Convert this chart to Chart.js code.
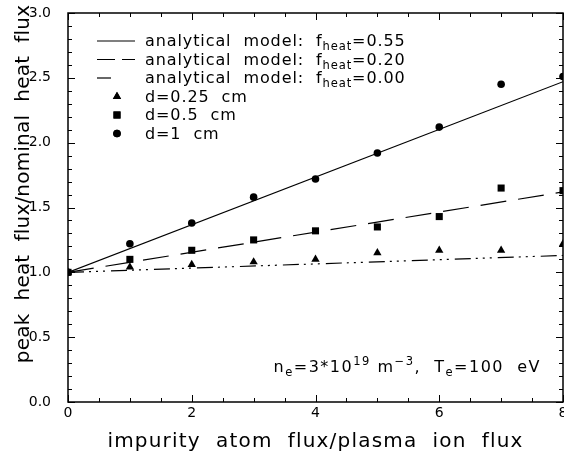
<!DOCTYPE html>
<html>
<head>
<meta charset="utf-8">
<script src="https://cdn.jsdelivr.net/npm/chart.js@4/dist/chart.umd.min.js"></script>
<style>
  html, body { margin: 0; padding: 0; background: #fff; }
  #wrap { width: 564px; height: 456px; }
</style>
</head>
<body>
<div id="wrap"><canvas id="fluxChart" width="564" height="456"></canvas></div>
<script>
const fluxRatio = [0, 1, 2, 3, 4, 5, 6, 7, 8];
const peakD025 = [1.00, 1.04, 1.06, 1.08, 1.10, 1.15, 1.17, 1.17, 1.22];
const peakD05 = [1.00, 1.10, 1.17, 1.25, 1.32, 1.35, 1.43, 1.65, 1.63];
const peakD1 = [1.00, 1.22, 1.38, 1.58, 1.72, 1.92, 2.12, 2.45, 2.51];

// analytical model lines (straight)
const modelX = [0, 8];
const modelF055 = [1.00, 2.47];
const modelF020 = [1.00, 1.62];
const modelF000 = [1.00, 1.13];

const xTicks = [0, 2, 4, 6, 8];
const yTicks = [0, 0.5, 1.0, 1.5, 2.0, 2.5, 3.0];
const legendRows = ['0.55', '0.20', '0.00'];
const pointLabels = ['d=0.25  cm', 'd=0.5  cm', 'd=1  cm'];

const FONT = '"DejaVu Sans", sans-serif';
const dashF020 = [26, 12];
const dashF000 = [16, 5, 2, 5, 2, 5, 2, 6];

function pts(xs, ys) {
    return xs.map((x, i) => ({ x: x, y: ys[i] }));
}

// width of a rich text run
function richWidth(ctx, parts, size, spacing) {
    let w = 0;
    parts.forEach(p => {
        const s = (p.sub || p.sup) ? size * 0.72 : size;
        ctx.font = `${s}px ${FONT}`;
        ctx.letterSpacing = spacing + 'px';
        w += ctx.measureText(p.t).width;
    });
    ctx.letterSpacing = '0px';
    return w;
}

// draw text with sub/superscript pieces
function drawRich(ctx, parts, x, y, size, spacing) {
    let cx = x;
    parts.forEach(p => {
        let s = size, dy = 0;
        if (p.sub) { s = size * 0.72; dy = 4; }
        if (p.sup) { s = size * 0.72; dy = -7; }
        ctx.font = `${s}px ${FONT}`;
        ctx.letterSpacing = spacing + 'px';
        ctx.fillText(p.t, cx, y + dy);
        cx += ctx.measureText(p.t).width;
    });
    ctx.letterSpacing = '0px';
}

const framePlugin = {
    id: 'frame',
    afterDraw(chart) {
        const ctx = chart.ctx;
        const a = chart.chartArea;
        const xs = chart.scales.x, ys = chart.scales.y;
        ctx.save();
        ctx.strokeStyle = '#000';
        ctx.fillStyle = '#000';

        // box
        ctx.lineWidth = 1.5;
        ctx.strokeRect(a.left, a.top, a.right - a.left, a.bottom - a.top);

        // inward ticks on all four sides
        ctx.lineWidth = 1;
        ctx.beginPath();
        for (let v = 0; v <= 8.001; v += 0.5) {
            const px = Math.round(xs.getPixelForValue(v)) + 0.5;
            const len = Math.abs(v % 2) < 0.01 ? 7 : 4;
            ctx.moveTo(px, a.bottom); ctx.lineTo(px, a.bottom - len);
            ctx.moveTo(px, a.top); ctx.lineTo(px, a.top + len);
        }
        for (let k = 0; k <= 30; k++) {
            const v = k / 10;
            const py = Math.round(ys.getPixelForValue(v)) + 0.5;
            const len = k % 5 === 0 ? 7 : 4;
            ctx.moveTo(a.left, py); ctx.lineTo(a.left + len, py);
            ctx.moveTo(a.right, py); ctx.lineTo(a.right - len, py);
        }
        ctx.stroke();

        // x tick labels
        ctx.font = `14px ${FONT}`;
        ctx.textAlign = 'center';
        ctx.textBaseline = 'top';
        xTicks.forEach(v => ctx.fillText(String(v), xs.getPixelForValue(v), a.bottom + 4));

        // axis titles
        ctx.textBaseline = 'alphabetic';
        ctx.font = `20px ${FONT}`;
        ctx.letterSpacing = '1.2px';
        ctx.fillText('impurity  atom  flux/plasma  ion  flux', (a.left + a.right) / 2, 447);
        ctx.save();
        ctx.translate(29, 184);
        ctx.rotate(-Math.PI / 2);
        ctx.letterSpacing = '0.2px';
        ctx.fillText('peak  heat  flux/nominal  heat  flux', 0, 0);
        ctx.restore();
        ctx.letterSpacing = '0px';
        ctx.textAlign = 'left';

        // legend
        const rowY = [46, 64.5, 83, 101.5, 120, 138.5];
        const lx0 = 97, lx1 = 135, tx = 145;
        const dashes = [[], [18, 7], [14, 40]];
        ctx.lineWidth = 1.2;
        legendRows.forEach((f, i) => {
            const y = rowY[i];
            ctx.setLineDash(dashes[i]);
            ctx.beginPath();
            ctx.moveTo(lx0, y - 5); ctx.lineTo(lx1, y - 5);
            ctx.stroke();
            ctx.setLineDash([]);
            drawRich(ctx, [{ t: 'analytical  model:  f' }, { t: 'heat', sub: true }, { t: '=' + f }], tx, y, 16, 0.9);
        });
        const shapes = ['triangle', 'rect', 'circle'];
        const radii = [4.8, 5, 3.8];
        pointLabels.forEach((lab, i) => {
            const y = rowY[i + 3];
            Chart.helpers.drawPoint(ctx, { pointStyle: shapes[i], radius: radii[i], borderWidth: 0 }, 117, y - 5);
            ctx.fill();
            drawRich(ctx, [{ t: lab }], tx, y, 16, 0.9);
        });

        // plasma conditions, right edge near x=540
        const cond = [
            { t: 'n' }, { t: 'e', sub: true }, { t: '=3*10' }, { t: '19', sup: true },
            { t: ' m' }, { t: '\u22123', sup: true }, { t: ',  T' }, { t: 'e', sub: true }, { t: '=100  eV' }
        ];
        const cw = richWidth(ctx, cond, 16, 1.5);
        drawRich(ctx, cond, 541 - cw, 372, 16, 1.5);
        ctx.restore();
    }
};

const markerBase = {
    showLine: false,
    borderColor: '#000',
    backgroundColor: '#000',
    borderWidth: 0,
    clip: 0
};

new Chart(document.getElementById('fluxChart'), {
    type: 'scatter',
    data: {
        datasets: [
            { label: 'f_heat=0.55', data: pts(modelX, modelF055), showLine: true, borderColor: '#000', borderWidth: 1.2, pointRadius: 0 },
            { label: 'f_heat=0.20', data: pts(modelX, modelF020), showLine: true, borderColor: '#000', borderWidth: 1.2, borderDash: dashF020, pointRadius: 0 },
            { label: 'f_heat=0.00', data: pts(modelX, modelF000), showLine: true, borderColor: '#000', borderWidth: 1.2, borderDash: dashF000, pointRadius: 0 },
            Object.assign({ label: 'd=0.25 cm', data: pts(fluxRatio, peakD025), pointStyle: 'triangle', pointRadius: 4.8 }, markerBase),
            Object.assign({ label: 'd=0.5 cm', data: pts(fluxRatio, peakD05), pointStyle: 'rect', pointRadius: 5 }, markerBase),
            Object.assign({ label: 'd=1 cm', data: pts(fluxRatio, peakD1), pointStyle: 'circle', pointRadius: 3.8 }, markerBase)
        ]
    },
    options: {
        responsive: false,
        animation: false,
        devicePixelRatio: 1,
        layout: { autoPadding: false, padding: { top: 13, right: 1, left: 0, bottom: 0 } },
        plugins: {
            legend: { display: false },
            tooltip: { enabled: false }
        },
        scales: {
            x: {
                type: 'linear',
                min: 0,
                max: 8,
                afterFit: s => { s.height = 54; },
                grid: { display: false },
                border: { display: false },
                ticks: { display: false }
            },
            y: {
                type: 'linear',
                min: 0,
                max: 3,
                afterBuildTicks: s => { s.ticks = yTicks.map(v => ({ value: v })); },
                afterFit: s => { s.width = 68; s.paddingTop = 0; s.paddingBottom = 0; },
                grid: { display: false },
                border: { display: false },
                ticks: {
                    color: '#000',
                    font: { family: FONT, size: 14 },
                    padding: 9,
                    callback: v => Number(v).toFixed(1)
                }
            }
        }
    },
    plugins: [framePlugin]
});
</script>
</body>
</html>
